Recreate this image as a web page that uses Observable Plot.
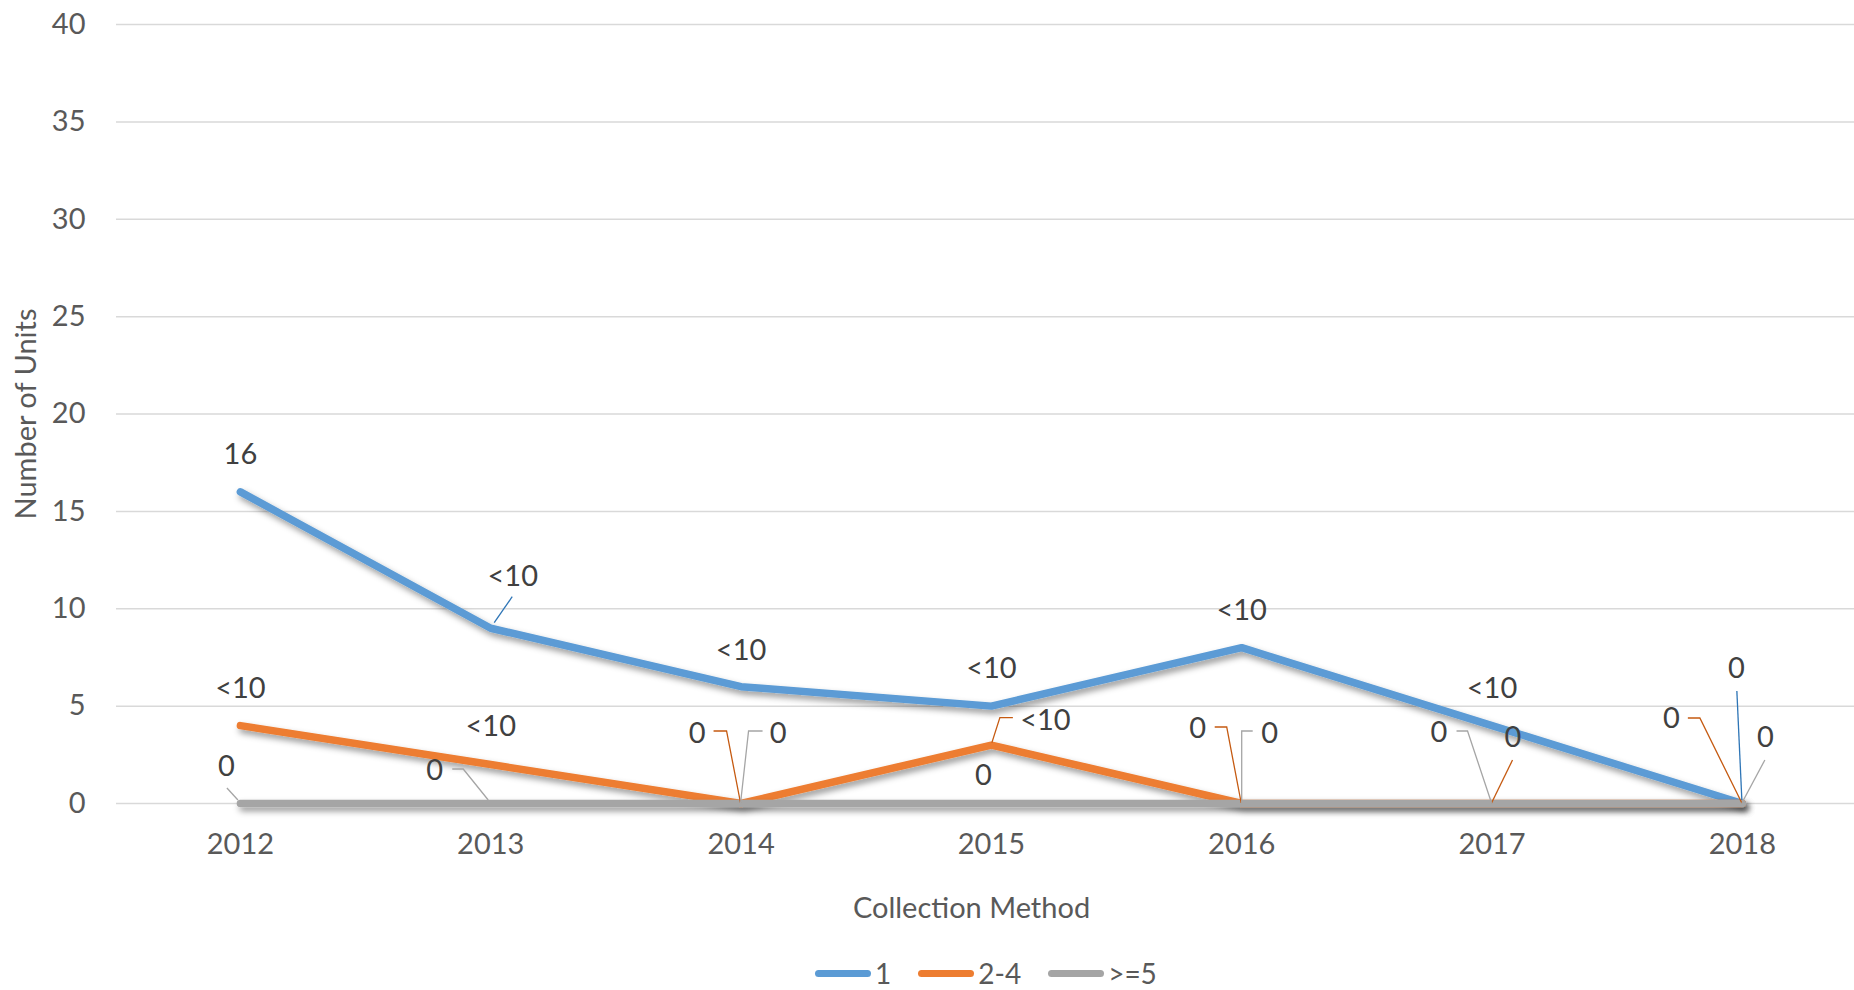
<!DOCTYPE html>
<html>
<head>
<meta charset="utf-8">
<script src="https://cdn.jsdelivr.net/npm/d3@7"></script>
<script src="https://cdn.jsdelivr.net/npm/@observablehq/plot@0.6"></script>
<style>
  html, body { margin: 0; padding: 0; background: #fff; overflow: hidden; }
  #wrap { position: relative; width: 1854px; height: 990px; overflow: hidden; }
  #legend { position: absolute; left: 815px; top: 961px; display: flex; align-items: center;
            font-family: Lato, "Open Sans", sans-serif; font-size: 28px; line-height: 24px; height: 24px; color: #595959; }
  .sw { width: 56px; height: 7px; border-radius: 3.5px; margin-right: 4px; }
  .item { display: flex; align-items: center; margin-right: 27px; }
  .item span { display: inline-block; line-height: 24px; height: 24px; }
</style>
</head>
<body>
<div id="wrap"><div id="chart"></div><div id="legend"></div></div>
<script>
// ---- data ----
const years = [2012, 2013, 2014, 2015, 2016, 2017, 2018];
const seriesNames = ["1", "2-4", ">=5"];
const values1 = [16, 9, 6, 5, 8, 4, 0];
const values24 = [4, 2, 0, 3, 0, 0, 0];
const values5 = [0, 0, 0, 0, 0, 0, 0];
const labels1 = ["16", "<10", "<10", "<10", "<10", "<10", "0"];
const labels24 = ["<10", "<10", "0", "<10", "0", "0", "0"];
const labels5 = ["0", "0", "0", "0", "0", "0", "0"];
const yTicks = [0, 5, 10, 15, 20, 25, 30, 35, 40];
const xTitle = "Collection Method";
const yTitle = "Number of Units";

// ---- styling / layout (pixel offsets of manually placed Excel data labels) ----
const colors = ["#5B9BD5", "#ED7D31", "#A5A5A5"];
const leaderColors = ["#2E75B6", "#C55A11", "#A5A5A5"];
const labelOffsets = [
  [[0,-37],[22,-52],[0,-36],[0,-37],[0,-37],[0,-37],[-6,-135]],
  [[0,-37],[0,-38],[-44,-70],[54,-24],[-44,-75],[21,-66],[-71,-85]],
  [[-14,-37],[-56,-33],[37,-70],[-8,-28],[28,-70],[-53,-71],[23,-66]]
];
const leaderPaths = [
  [null, [[4,-5],[22,-31]], null, null, null, null, [[0,-3],[-5,-112]]],
  [null, null, [[0,0],[-14,-72],[-27,-72]], [[1,-2],[9,-27],[22,-27]], [[0,0],[-14.5,-76],[-26.5,-76]], [[0,0],[21,-43]], [[0,0],[-42,-85],[-54,-85]]],
  [[[-2,-3],[-13,-15]], [[-2,-3],[-27,-34],[-38,-34]], [[0,0],[8,-72],[22,-72]], null, [[0.5,0],[0.5,-72],[11.5,-72]], [[0,0],[-24,-72],[-35,-72]], [[0,0],[23,-43]]]
];

const seriesValues = [values1, values24, values5];
const seriesLabels = [labels1, labels24, labels5];

const rows = [];
seriesNames.forEach((s, si) => years.forEach((y, i) => rows.push({series: s, si, year: y, value: seriesValues[si][i], label: seriesLabels[si][i], i})));

const W = 1854, H = 940;
const FONT = "Lato, 'Open Sans', sans-serif";
const FS = 29;

const lineMarks = seriesNames.map((s, si) =>
  Plot.line(rows.filter(r => r.si === si), {x: "year", y: "value", stroke: colors[si], strokeWidth: 7.5,
    strokeLinecap: "round", strokeLinejoin: "miter"}));

function leaders(index, scales) {
  const g = d3.create("svg:g").attr("fill", "none").attr("stroke-width", 1.3).attr("class", "leaders");
  rows.forEach(r => {
    const p = leaderPaths[r.si][r.i];
    if (!p) return;
    const px = scales.x(r.year), py = scales.y(r.value);
    g.append("path").attr("stroke", leaderColors[r.si])
      .attr("d", d3.line()(p.map(([a, b]) => [px + a, py + b])));
  });
  return g.node();
}

const labelMarks = rows.map(r => {
  const [dx, dy] = labelOffsets[r.si][r.i];
  return Plot.text([r], {x: "year", y: "value", text: "label", dx, dy, fill: "#404040",
    fontSize: FS, textAnchor: "middle", lineAnchor: "middle"});
});

const chart = Plot.plot({
  width: W, height: H,
  marginLeft: 116, marginRight: 0, marginTop: 24, marginBottom: H - 803,
  style: {fontFamily: FONT, fontSize: FS + "px", background: "#fff"},
  x: {type: "linear", domain: [2011.505, 2018.448]},
  y: {domain: [0, 40]},
  marks: [
    Plot.gridY(yTicks, {stroke: "#D9D9D9", strokeOpacity: 1, strokeWidth: 1.5}),
    Plot.axisY(yTicks, {tickSize: 0, tickPadding: 31, color: "#595959", fontSize: FS, label: null}),
    Plot.axisX(years, {tickSize: 0, tickPadding: 30, color: "#595959", fontSize: FS, label: null, tickFormat: d => String(d)}),
    Plot.text([yTitle], {frameAnchor: "left", rotate: -90, dx: -90, fill: "#595959", fontSize: FS, textAnchor: "middle", lineAnchor: "middle"}),
    Plot.text([xTitle], {frameAnchor: "bottom", dx: -14, dy: 105, fill: "#595959", fontSize: FS, textAnchor: "middle", lineAnchor: "middle"}),
    ...lineMarks,
    leaders,
    ...labelMarks
  ]
});

// drop shadow like Excel
const ns = "http://www.w3.org/2000/svg";
const defs = document.createElementNS(ns, "defs");
defs.innerHTML = '<filter id="shadow" filterUnits="userSpaceOnUse" x="0" y="0" width="' + W + '" height="' + H + '">' +
  '<feDropShadow dx="2.5" dy="4" stdDeviation="3" flood-color="#000" flood-opacity="0.4"/></filter>';
chart.insertBefore(defs, chart.firstChild);
chart.querySelectorAll('g[aria-label="line"]').forEach(g => g.setAttribute("filter", "url(#shadow)"));

document.getElementById("chart").appendChild(chart);

// legend
const legend = document.getElementById("legend");
seriesNames.forEach((s, si) => {
  const item = document.createElement("div");
  item.className = "item";
  const sw = document.createElement("div");
  sw.className = "sw";
  sw.style.background = colors[si];
  const t = document.createElement("span");
  t.textContent = s;
  item.appendChild(sw); item.appendChild(t);
  legend.appendChild(item);
});
</script>
</body>
</html>
